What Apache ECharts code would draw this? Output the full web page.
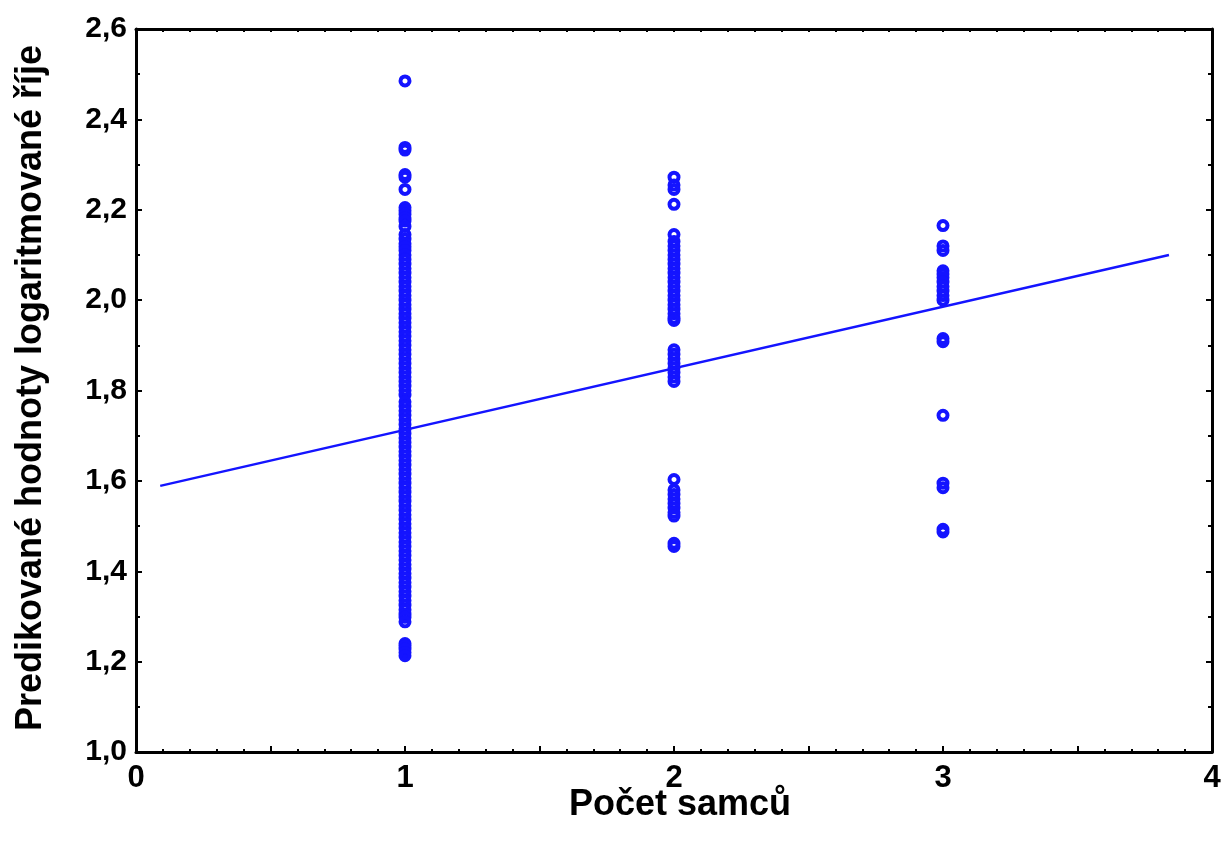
<!DOCTYPE html>
<html>
<head>
<meta charset="utf-8">
<script src="https://cdn.jsdelivr.net/npm/echarts@6/dist/echarts.min.js"></script>
<style>
html,body{margin:0;padding:0;background:#fff;}
#chart{width:1231px;height:843px;}
</style>
</head>
<body>
<div id="chart"></div>
<script>
// ---- data ----
const xTitle = 'Počet samců';
const yTitle = 'Predikované hodnoty logaritmované říje';

const males1 = [2.485, 2.338, 2.332, 2.278, 2.272, 2.245, 2.205, 2.198, 2.19, 2.182, 2.175, 2.163,
  2.145, 2.135, 2.125, 2.118, 2.11, 2.1, 2.09, 2.08, 2.07, 2.06, 2.05, 2.04, 2.03, 2.02, 2.01, 2.0,
  1.99, 1.98, 1.97, 1.96, 1.95, 1.94, 1.93, 1.92, 1.91, 1.9, 1.89, 1.88, 1.87, 1.86, 1.85, 1.84,
  1.83, 1.82, 1.81, 1.8, 1.79, 1.775, 1.765, 1.755, 1.745, 1.735, 1.725, 1.715, 1.705, 1.695,
  1.685, 1.675, 1.665, 1.655, 1.645, 1.635, 1.625, 1.615, 1.605, 1.595, 1.585, 1.575, 1.565,
  1.555, 1.545, 1.535, 1.525, 1.515, 1.505, 1.495, 1.485, 1.475, 1.465, 1.455, 1.445, 1.435,
  1.425, 1.415, 1.405, 1.395, 1.385, 1.375, 1.365, 1.355, 1.345, 1.335, 1.325, 1.315, 1.305,
  1.298, 1.288, 1.24, 1.235, 1.228, 1.22, 1.213];

const males2 = [2.272, 2.255, 2.245, 2.212, 2.145, 2.13, 2.12, 2.11, 2.1, 2.09, 2.08, 2.07, 2.06,
  2.05, 2.04, 2.03, 2.02, 2.01, 2.0, 1.99, 1.98, 1.97, 1.96, 1.955, 1.89, 1.88, 1.87, 1.86, 1.85,
  1.84, 1.83, 1.82, 1.603, 1.58, 1.57, 1.56, 1.55, 1.54, 1.53, 1.522, 1.462, 1.455];

const males3 = [2.165, 2.12, 2.11, 2.065, 2.058, 2.05, 2.04, 2.03, 2.02, 2.01, 2.0, 1.915, 1.908,
  1.745, 1.595, 1.585, 1.493, 1.487];

const fitX = [0.09, 3.84];
const fitY = [1.589, 2.10];

// ---- build ----
const groups = [[1, males1], [2, males2], [3, males3]];
const scatterData = [];
groups.forEach(function (g) { g[1].forEach(function (v) { scatterData.push([g[0], v]); }); });
const lineData = fitX.map(function (x, i) { return [x, fitY[i]]; });

const FONT = "'Liberation Sans', Arial, sans-serif";
const BLUE = '#1414ff';

function baseAxis(extra) {
  return Object.assign({
    type: 'value',
    axisLine: { show: true, onZero: false, lineStyle: { color: '#000', width: 3 } },
    axisTick: { show: true, inside: true, length: 6, lineStyle: { color: '#000', width: 2 } },
    minorTick: { show: true, length: 3, lineStyle: { color: '#000', width: 2 } },
    splitLine: { show: false },
    minorSplitLine: { show: false }
  }, extra);
}

const chart = echarts.init(document.getElementById('chart'), null, { renderer: 'canvas' });
chart.setOption({
  backgroundColor: '#fff',
  animation: false,
  grid: { left: 136, right: 19, top: 29, bottom: 91, containLabel: false },
  xAxis: [
    baseAxis({
      position: 'bottom', min: 0, max: 4, interval: 0.5,
      minorTick: { show: true, splitNumber: 5, length: 3, lineStyle: { color: '#000', width: 2 } },
      axisLabel: {
        margin: 11, color: '#000', fontSize: 31, fontWeight: 'bold', fontFamily: FONT,
        formatter: function (v) { return Math.abs(v - Math.round(v)) < 1e-9 ? String(Math.round(v)) : ''; }
      }
    }),
    baseAxis({
      position: 'top', min: 0, max: 4, interval: 0.1,
      axisTick: { show: true, inside: true, length: 3, lineStyle: { color: '#000', width: 2 } },
      minorTick: { show: false },
      axisLabel: { show: false }
    })
  ],
  yAxis: [
    baseAxis({
      position: 'left', min: 1.0, max: 2.6, interval: 0.2,
      minorTick: { show: true, splitNumber: 2, length: 4, lineStyle: { color: '#000', width: 2 } },
      axisLabel: {
        margin: 9, color: '#000', fontSize: 30, fontWeight: 'bold', fontFamily: FONT,
        formatter: function (v) { return v.toFixed(1).replace('.', ','); }
      }
    }),
    baseAxis({
      position: 'right', min: 1.0, max: 2.6, interval: 0.2,
      minorTick: { show: true, splitNumber: 2, length: 4, lineStyle: { color: '#000', width: 2 } },
      axisLabel: { show: false }
    })
  ],
  series: [
    {
      type: 'scatter', xAxisIndex: 0, yAxisIndex: 0,
      symbol: 'circle', symbolSize: 9,
      itemStyle: { color: 'rgba(255,255,255,0)', borderColor: BLUE, borderWidth: 4, opacity: 1 },
      data: scatterData, z: 3
    },
    {
      type: 'line', xAxisIndex: 0, yAxisIndex: 0,
      showSymbol: false, symbol: 'none',
      lineStyle: { color: BLUE, width: 2.5 },
      data: lineData, z: 4
    }
  ],
  graphic: [
    {
      type: 'text', x: 680, y: 805,
      style: { text: xTitle, font: 'bold 36px ' + FONT, fill: '#000', textAlign: 'center', textVerticalAlign: 'middle' }
    },
    {
      type: 'text', x: 31, y: 388, rotation: Math.PI / 2,
      style: { text: yTitle, font: 'bold 36px ' + FONT, fill: '#000', textAlign: 'center', textVerticalAlign: 'middle' }
    }
  ]
});
</script>
</body>
</html>
